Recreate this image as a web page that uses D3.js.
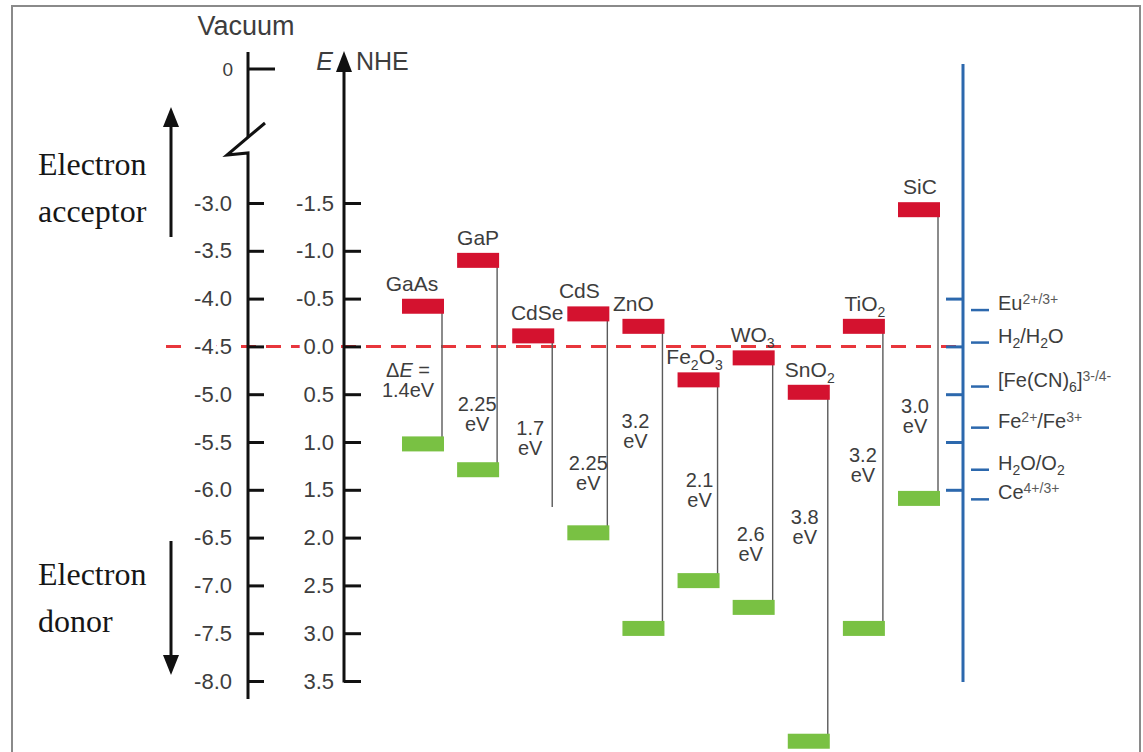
<!DOCTYPE html>
<html>
<head>
<meta charset="utf-8">
<script src="https://cdn.jsdelivr.net/npm/d3@7"></script>
<style>
  html, body { margin: 0; padding: 0; background: #fff; }
  svg { display: block; }
</style>
</head>
<body>
<svg id="chart" width="1143" height="752"></svg>
<script>
// ---------------- DATA ----------------
const semiconductors = ["GaAs", "GaP", "CdSe", "CdS", "ZnO", "Fe2O3", "WO3", "SnO2", "TiO2", "SiC"];
// conduction band edge (eV vs vacuum)
const cbEdge = [-4.08, -3.60, -4.39, -4.16, -4.29, -4.85, -4.62, -4.98, -4.29, -3.07];
// valence band edge (eV vs vacuum)
const vbEdge = [-5.52, -5.79, -6.18, -6.45, -7.45, -6.95, -7.23, -8.63, -7.45, -6.09];
const vbBarShown = [true, true, false, true, true, true, true, true, true, true];
const gapTextTop = ["ΔE =", "2.25", "1.7", "2.25", "3.2", "2.1", "2.6", "3.8", "3.2", "3.0"];
const gapTextBottom = ["1.4eV", "eV", "eV", "eV", "eV", "eV", "eV", "eV", "eV", "eV"];

const vacuumTicks = [-3.0, -3.5, -4.0, -4.5, -5.0, -5.5, -6.0, -6.5, -7.0, -7.5, -8.0];
const nheTicks = [-1.5, -1.0, -0.5, 0.0, 0.5, 1.0, 1.5, 2.0, 2.5, 3.0, 3.5];
const redoxAxisTicks = [-0.5, 0.0, 0.5, 1.0, 1.5];

const redoxCouples = ["Eu2+/3+", "H2/H2O", "[Fe(CN)6]3-/4-", "Fe2+/Fe3+", "H2O/O2", "Ce4+/3+"];
const redoxPotential = [-0.38, -0.04, 0.42, 0.85, 1.29, 1.60]; // V vs NHE
// rich-text pieces for the redox labels: [text, mode] mode: n normal, b sub, p sup
const redoxPieces = [
  [["Eu","n"],["2+/3+","p"]],
  [["H","n"],["2","b"],["/H","n"],["2","b"],["O","n"]],
  [["[Fe(CN)","n"],["6","b"],["]","n"],["3-/4-","p"]],
  [["Fe","n"],["2+","p"],["/Fe","n"],["3+","p"]],
  [["H","n"],["2","b"],["O/O","n"],["2","b"]],
  [["Ce","n"],["4+/3+","p"]]
];
const waterReductionLevel = -4.5; // eV vs vacuum (H+/H2)

// ---------------- LAYOUT ----------------
const gapLabelAt = [-4.74, -5.10, -5.35, -5.72, -5.28, -5.90, -6.46, -6.28, -5.63, -5.12]; // label position in eV
const gapLabelDx = [-15, -1, -3, 0, -8, 1, -3, -4, -1, -4];
const nameDx = [-11, 0, 4, -9, -10, -4, -1, 1, 1, 1];

const svg = d3.select("#chart");
const SANS = "'Liberation Sans', Arial, sans-serif";
const SERIF = "'Liberation Serif', 'Times New Roman', serif";
const TXT = "#3d3d3d";
const RED = "#d4122f", GREEN = "#79c143", BLUE = "#2c68ad";

const xVac = 248, xNhe = 344, xRedox = 963;

const y = d3.scaleLinear().domain([-3.0, -8.0]).range([203, 681]);
const yN = d3.scaleLinear().domain([-1.5, 3.5]).range([203, 681]);
const x = d3.scalePoint().domain(semiconductors).range([423, 919]);

// frame
svg.append("rect").attr("x", 12).attr("y", 6).attr("width", 1128).attr("height", 770)
  .attr("fill", "none").attr("stroke", "#8a8a8a").attr("stroke-width", 2);

// dashed water reduction line
svg.append("line")
  .attr("x1", 166).attr("x2", xRedox)
  .attr("y1", y(waterReductionLevel)).attr("y2", y(waterReductionLevel))
  .attr("stroke", "#e8363c").attr("stroke-width", 3)
  .attr("stroke-dasharray", "15 10");

function haloText(sel) {
  sel.attr("fill", TXT).style("font", `22px ${SANS}`)
    .style("stroke", "#fff").style("stroke-width", "9px")
    .style("stroke-linejoin", "round").style("paint-order", "stroke fill");
}

// ---------- vacuum axis ----------
const gVac = svg.append("g").attr("transform", `translate(${xVac},0)`);
gVac.call(d3.axisLeft(y).tickValues(vacuumTicks).tickSizeInner(-16).tickSizeOuter(0)
  .tickPadding(16).tickFormat(d => d.toFixed(1)));
gVac.select(".domain").remove();
gVac.selectAll(".tick line").attr("stroke", "#111").attr("stroke-width", 3);
haloText(gVac.selectAll(".tick text"));

// axis line with break
const breakY0 = 69;
svg.append("path")
  .attr("d", `M${xVac},52 V137`)
  .attr("stroke", "#111").attr("stroke-width", 3).attr("fill", "none");
svg.append("path")
  .attr("d", `M${xVac + 17},123 L${xVac - 21},155 L${xVac},153 V${y(-8.0) + 18}`)
  .attr("stroke", "#111").attr("stroke-width", 3).attr("fill", "none").attr("stroke-linejoin", "miter");
svg.append("line").attr("x1", xVac).attr("x2", xVac + 27).attr("y1", breakY0).attr("y2", breakY0)
  .attr("stroke", "#111").attr("stroke-width", 3);
svg.append("text").attr("x", xVac - 15).attr("y", breakY0).attr("dy", "0.35em")
  .attr("text-anchor", "end").attr("fill", TXT).style("font", `19px ${SANS}`).text("0");
svg.append("text").attr("x", 246).attr("y", 35).attr("text-anchor", "middle")
  .attr("fill", TXT).style("font", `27px ${SANS}`).text("Vacuum");

// ---------- NHE axis ----------
const gN = svg.append("g").attr("transform", `translate(${xNhe},0)`);
gN.call(d3.axisLeft(yN).tickValues(nheTicks).tickSizeInner(-17).tickSizeOuter(0)
  .tickPadding(10).tickFormat(d => d.toFixed(1)));
gN.select(".domain").remove();
gN.selectAll(".tick line").attr("stroke", "#111").attr("stroke-width", 3);
haloText(gN.selectAll(".tick text"));
svg.append("line").attr("x1", xNhe).attr("x2", xNhe).attr("y1", 66).attr("y2", yN(3.5) + 1.5)
  .attr("stroke", "#111").attr("stroke-width", 3);
svg.append("path").attr("d", `M${xNhe},51 L${xNhe - 8},72 L${xNhe + 8},72 Z`).attr("fill", "#111");
svg.append("text").attr("x", xNhe - 11).attr("y", 70).attr("text-anchor", "end")
  .attr("fill", TXT).style("font", `italic 25px ${SANS}`).text("E");
svg.append("text").attr("x", xNhe + 12).attr("y", 70)
  .attr("fill", TXT).style("font", `25px ${SANS}`).text("NHE");

// ---------- electron acceptor / donor ----------
function arrow(x0, yFrom, yTip) {
  const dir = yTip < yFrom ? -1 : 1;
  svg.append("line").attr("x1", x0).attr("x2", x0).attr("y1", yFrom).attr("y2", yTip - dir * 16)
    .attr("stroke", "#111").attr("stroke-width", 3);
  svg.append("path").attr("d", `M${x0},${yTip} L${x0 - 8},${yTip - dir * 20} L${x0 + 8},${yTip - dir * 20} Z`)
    .attr("fill", "#111");
}
arrow(171, 237, 107);
arrow(171, 541, 675);
const serifText = (t, yy) => svg.append("text").attr("x", 38).attr("y", yy)
  .attr("fill", "#161616").style("font", `32px ${SERIF}`).text(t);
serifText("Electron", 175);
serifText("acceptor", 222);
serifText("Electron", 585);
serifText("donor", 632);

// ---------- redox axis ----------
const gR = svg.append("g").attr("transform", `translate(${xRedox},0)`);
gR.call(d3.axisLeft(yN).tickValues(redoxAxisTicks).tickSizeInner(17).tickSizeOuter(0).tickFormat(""));
gR.select(".domain").remove();
gR.selectAll(".tick line").attr("stroke", BLUE).attr("stroke-width", 3);
svg.append("line").attr("x1", xRedox).attr("x2", xRedox).attr("y1", 64).attr("y2", 682)
  .attr("stroke", BLUE).attr("stroke-width", 3);

const redox = svg.append("g").selectAll("g").data(redoxCouples).join("g")
  .attr("transform", (d, i) => `translate(0,${yN(redoxPotential[i])})`);
redox.append("line").attr("x1", xRedox + 8).attr("x2", xRedox + 26)
  .attr("stroke", BLUE).attr("stroke-width", 2.5);
redox.each(function (d, i) {
  const t = d3.select(this).append("text").attr("x", xRedox + 35).attr("y", 0).attr("dy", "0.36em")
    .attr("fill", TXT).style("font", `20px ${SANS}`);
  let shift = 0;
  redoxPieces[i].forEach(([s, m]) => {
    const target = m === "b" ? 5 : m === "p" ? -6 : 0;
    t.append("tspan").attr("dy", target - shift)
      .style("font-size", m === "n" ? "20px" : "14px")
      .attr("fill", m === "p" ? "#5a5a5a" : TXT).text(s);
    shift = target;
  });
});

// ---------- semiconductors ----------
const BW = 42, BH = 15;
const idx = semiconductors.map((d, i) => i);
const sc = svg.append("g").selectAll("g").data(idx).join("g");

// connector lines
sc.append("line")
  .attr("x1", i => x(semiconductors[i]) + BW / 2 - 2)
  .attr("x2", i => x(semiconductors[i]) + BW / 2 - 2)
  .attr("y1", i => y(cbEdge[i]))
  .attr("y2", i => y(vbEdge[i]))
  .attr("stroke", "#5a5a5a").attr("stroke-width", 1.4);

// conduction band bars
sc.append("rect")
  .attr("x", i => x(semiconductors[i]) - BW / 2)
  .attr("y", i => y(cbEdge[i]) - BH / 2)
  .attr("width", BW).attr("height", BH).attr("fill", RED);

// valence band bars
sc.filter(i => vbBarShown[i]).append("rect")
  .attr("x", i => x(semiconductors[i]) - BW / 2)
  .attr("y", i => y(vbEdge[i]) - BH / 2)
  .attr("width", BW).attr("height", BH).attr("fill", GREEN);

// names with subscripts
sc.append("text")
  .attr("x", i => x(semiconductors[i]) + nameDx[i])
  .attr("y", i => y(cbEdge[i]) - BH / 2 - 8)
  .attr("text-anchor", "middle").attr("fill", TXT).style("font", `21px ${SANS}`)
  .each(function (i) {
    const t = d3.select(this);
    const parts = semiconductors[i].split(/(\d)/).filter(s => s.length);
    let shift = 0;
    parts.forEach(p => {
      const isSub = /^\d$/.test(p);
      const target = isSub ? 6 : 0;
      t.append("tspan").attr("dy", target - shift).style("font-size", isSub ? "14px" : "21px").text(p);
      shift = target;
    });
  });

// band gap labels
const gl = sc.append("text")
  .attr("text-anchor", "middle").attr("fill", TXT).style("font", `20px ${SANS}`)
  .attr("transform", i => `translate(${x(semiconductors[i]) + gapLabelDx[i]},${y(gapLabelAt[i])})`);
gl.each(function (i) {
  const t = d3.select(this);
  const top = t.append("tspan").attr("x", 0).attr("y", 0).attr("dy", "0.36em");
  if (gapTextTop[i].startsWith("ΔE")) {
    top.append("tspan").text("Δ");
    top.append("tspan").style("font-style", "italic").text("E");
    top.append("tspan").text(" =");
  } else {
    top.text(gapTextTop[i]);
  }
  t.append("tspan").attr("x", 0).attr("y", 20).attr("dy", "0.36em").text(gapTextBottom[i]);
});
</script>
</body>
</html>
